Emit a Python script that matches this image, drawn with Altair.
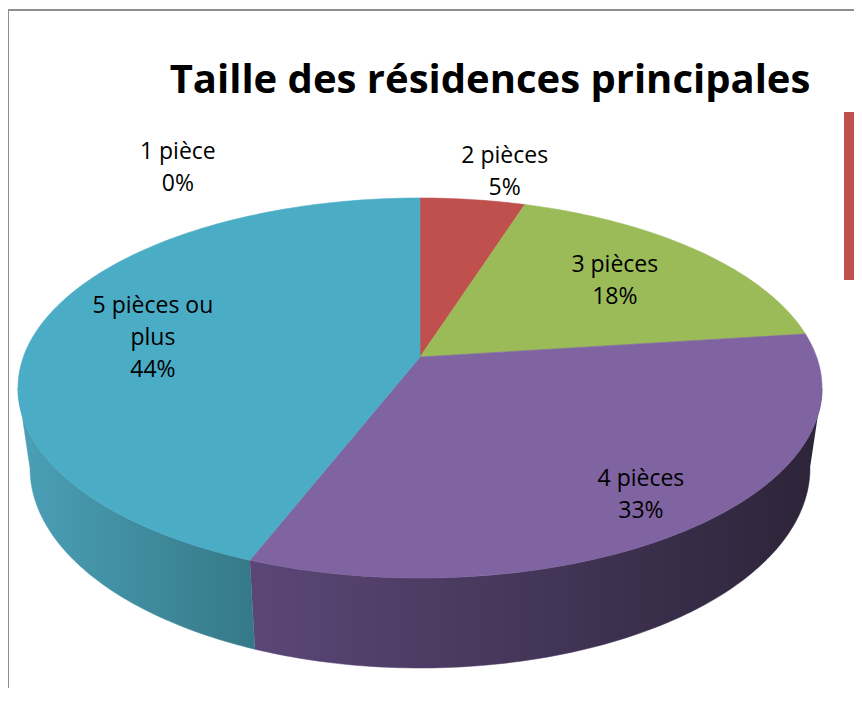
import numpy as np
import pandas as pd
import altair as alt

# ---------------- data ----------------
CATEGORIES = ["1 pièce", "2 pièces", "3 pièces", "4 pièces", "5 pièces ou plus"]
SHARES = [0, 5, 18, 33, 44]
LABEL_NAMES = ["1 pièce", "2 pièces", "3 pièces", "4 pièces", "5 pièces ou\nplus"]
TITLE = "Taille des résidences principales"

# ---------------- styles ----------------
TOP_COLORS = ["#4f81bd", "#c0504d", "#9bbb59", "#8064a2", "#4bacc6"]
SIDE_GRADIENTS = {
    "4 pièces": ("#5b4777", "#2c2438"),
    "5 pièces ou plus": ("#4ba0b7", "#357987"),
}
FONT = "Open Sans"
LABEL_SIZE, LINE_H = 23, 32

# ---------------- layout (pixels of the plot area) ----------------
W, H = 846, 680
U = 402.0                 # pixels per unit (pie half width)
CX, CY = 412.0, 380.0     # pie centre inside the plot area
TILT = 190 / U            # half height of the top ellipse
APEX = 31 / U             # perspective: apex above ellipse centre
A_BOT, CY_BOT, B_BOT = 390 / U, -80 / U, 200 / U   # bottom rim of the wall
LABEL_RADIUS = [1.163, 0.997, 0.629, 0.911, 0.672]
LABEL_SHIFT = [-31.2, 3.2, 0.0, 0.7, -2.2]          # degrees


def rim_param(theta_deg):
    th = np.radians(theta_deg)
    bq = 2 * APEX * np.cos(th) / TILT
    cq = (APEX / TILT) ** 2 - 1
    s = (-bq + np.sqrt(bq * bq - 4 * cq)) / 2
    px = s * np.sin(th)
    py = APEX + s * TILT * np.cos(th)
    t = np.degrees(np.arctan2(px, py / TILT))
    t += 360 * np.round((theta_deg - t) / 360)
    return t


def arc_steps(t0, t1):
    n = max(2, int(abs(t1 - t0)) + 1)
    return np.radians(np.linspace(t0, t1, n))


total = float(sum(SHARES))
ends = np.cumsum(SHARES) / total * 360.0
starts = ends - np.array(SHARES) / total * 360.0

top_rows, side_rows, label_rows = [], [], []
for k, cat in enumerate(CATEGORIES):
    a0, a1 = starts[k], ends[k]
    t0, t1 = rim_param(a0), rim_param(a1)
    if SHARES[k] > 0:
        pts = [(0.0, APEX)]
        pts += [(np.sin(t), TILT * np.cos(t)) for t in arc_steps(t0, t1)]
        pts += [(0.0, APEX)]
        for i, (x, y) in enumerate(pts):
            top_rows.append({"slice": cat, "i": i, "x": x, "y": y})
        s0, s1 = max(t0, 90.0), min(t1, 270.0)
        if s1 > s0:
            ts = arc_steps(s0, s1)
            pts = [(np.sin(t), TILT * np.cos(t)) for t in ts]
            pts += [(A_BOT * np.sin(t), CY_BOT + B_BOT * np.cos(t)) for t in ts[::-1]]
            for i, (x, y) in enumerate(pts):
                side_rows.append({"slice": cat, "i": i, "x": x, "y": y})
    text = f"{LABEL_NAMES[k]}\n{SHARES[k]}%"
    n_lines = text.count("\n") + 1
    mid = np.radians((a0 + a1) / 2 + LABEL_SHIFT[k])
    r = LABEL_RADIUS[k]
    label_rows.append({
        "slice": cat,
        "label": text,
        "x": r * np.sin(mid),
        # first line sits above the block centre
        "y": APEX + r * TILT * np.cos(mid) + (n_lines - 1) / 2 * LINE_H / U,
    })

top_df = pd.DataFrame(top_rows)
side_df = pd.DataFrame(side_rows)
label_df = pd.DataFrame(label_rows)

xs = alt.Scale(domain=[-CX / U, (W - CX) / U], nice=False, zero=False)
ys = alt.Scale(domain=[-(H - CY) / U, CY / U], nice=False, zero=False)
X = alt.X("x:Q", scale=xs, axis=None)
Y = alt.Y("y:Q", scale=ys, axis=None)
col_scale = alt.Scale(domain=CATEGORIES, range=TOP_COLORS)

layers = []
for cat, (c0, c1) in SIDE_GRADIENTS.items():
    grad = alt.LinearGradient(
        gradient="linear",
        stops=[alt.GradientStop(color=c0, offset=0), alt.GradientStop(color=c1, offset=1)],
        x1=0, x2=1, y1=0, y2=0,
    )
    layers.append(
        alt.Chart(side_df[side_df["slice"] == cat])
        .mark_line(filled=True, fill=grad, stroke=grad, strokeWidth=0.5)
        .encode(x=X, y=Y, order="i:Q", detail="slice:N")
    )

top = alt.Chart(top_df).mark_line(filled=True, strokeWidth=0.6).encode(
    x=X, y=Y, order="i:Q", detail="slice:N",
    fill=alt.Fill("slice:N", scale=col_scale, legend=None),
    stroke=alt.Stroke("slice:N", scale=col_scale, legend=None),
)
layers.append(top)

labels = alt.Chart(label_df).mark_text(
    font=FONT, fontSize=LABEL_SIZE, lineHeight=LINE_H, lineBreak="\n",
    align="center", baseline="middle", color="black",
).encode(x=X, y=Y, text="label:N")
layers.append(labels)

one = pd.DataFrame({"k": [0]})
frame_left = alt.Chart(one).mark_rule(color="#8e8e8e", strokeWidth=2).encode(
    x=alt.value(0), y=alt.value(2), y2=alt.value(H))
frame_top = alt.Chart(one).mark_rule(color="#8e8e8e", strokeWidth=2).encode(
    x=alt.value(0), x2=alt.value(W), y=alt.value(2))
legend_box = alt.Chart(one).mark_rect(
    filled=False, stroke="#c0504d", strokeWidth=12).encode(
    x=alt.value(842), x2=alt.value(W + 40), y=alt.value(110), y2=alt.value(266))
layers += [frame_left, frame_top, legend_box]

chart = alt.layer(*layers).properties(
    width=W, height=H,
    autosize=alt.AutoSizeParams(type="none"),
    padding=0,
    title=alt.TitleParams(
        TITLE, font=FONT, fontSize=40, fontWeight="bold", color="black",
        anchor="middle", dx=59, offset=-125, baseline="alphabetic",
    ),
).configure_view(strokeWidth=0)

chart.save("out.html", embed_options={"renderer": "svg", "actions": False})
